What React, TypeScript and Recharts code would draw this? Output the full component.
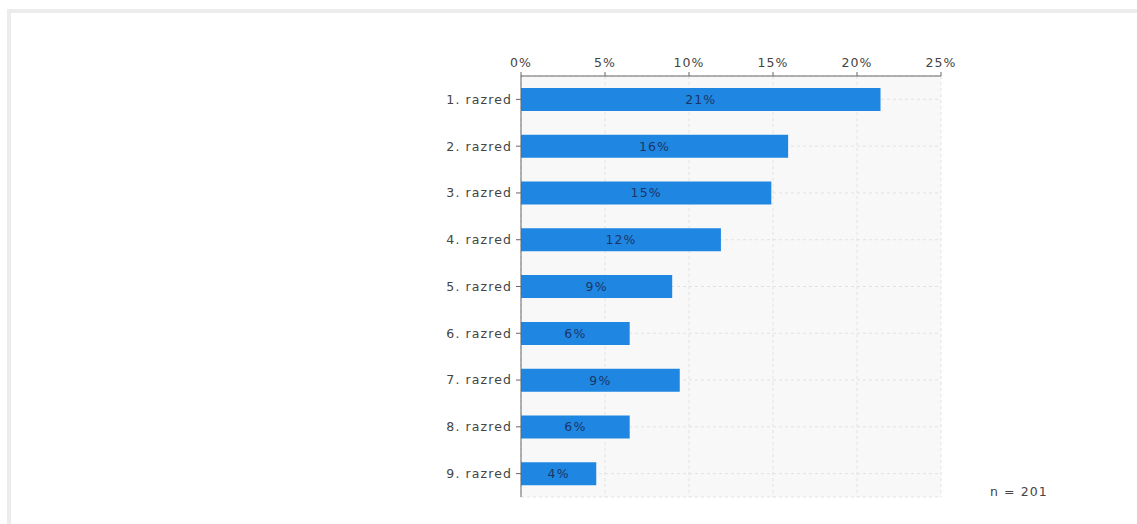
import { BarChart, Bar, XAxis, YAxis, CartesianGrid, LabelList } from 'recharts';

const categories = ['1. razred', '2. razred', '3. razred', '4. razred', '5. razred', '6. razred', '7. razred', '8. razred', '9. razred'];
const shares = [21.4, 15.9, 14.9, 11.9, 9.0, 6.47, 9.45, 6.47, 4.48];
const xTicks = [0, 5, 10, 15, 20, 25];
const sampleLabel = 'n = 201';

const data = categories.map((name, i) => ({ name, value: shares[i] }));

const font = '"DejaVu Sans", Verdana, sans-serif';
const textStyle = { fontSize: 12.5, fontFamily: font, letterSpacing: 1.1 };

const App = () => {
  return (
    <div style={{ position: 'absolute', left: 0, top: 0, width: 1137, height: 524, background: '#fff', overflow: 'hidden', fontFamily: font }}>
      <div
        style={{
          position: 'absolute',
          left: 7,
          top: 9,
          width: 1126,
          height: 530,
          borderTop: '4px solid #ececec',
          borderLeft: '4px solid #ececec',
          borderRight: '2px solid #f2f2f2',
        }}
      />
      <div style={{ position: 'absolute', left: 0, top: 0 }}>
        <BarChart
          width={1137}
          height={524}
          data={data}
          layout="vertical"
          margin={{ top: 46, right: 196, bottom: 27, left: 411 }}
        >
          <CartesianGrid stroke="#e2e2e2" strokeDasharray="3 3" fill="#f8f8f8" />
          <XAxis
            type="number"
            orientation="top"
            domain={[0, 25]}
            ticks={xTicks}
            tickFormatter={(v: number) => `${v}%`}
            height={30}
            stroke="#666"
            tickSize={4}
            tickMargin={5}
            tick={{ fill: '#444', ...textStyle }}
            interval={0}
          />
          <YAxis
            type="category"
            dataKey="name"
            width={110}
            stroke="#666"
            tickSize={5}
            tickMargin={4}
            tick={{ fill: '#444', ...textStyle }}
            interval={0}
          />
          <Bar dataKey="value" fill="#1f87e2" barSize={23} isAnimationActive={false}>
            <LabelList
              dataKey="value"
              position="center"
              formatter={(v: number) => `${Math.round(v)}%`}
              style={{ fill: '#1b3566', ...textStyle }}
            />
          </Bar>
        </BarChart>
      </div>
      <div style={{ position: 'absolute', left: 990, top: 484, fontSize: 12.5, letterSpacing: 1.1, color: '#444' }}>{sampleLabel}</div>
    </div>
  );
};

export default App;
